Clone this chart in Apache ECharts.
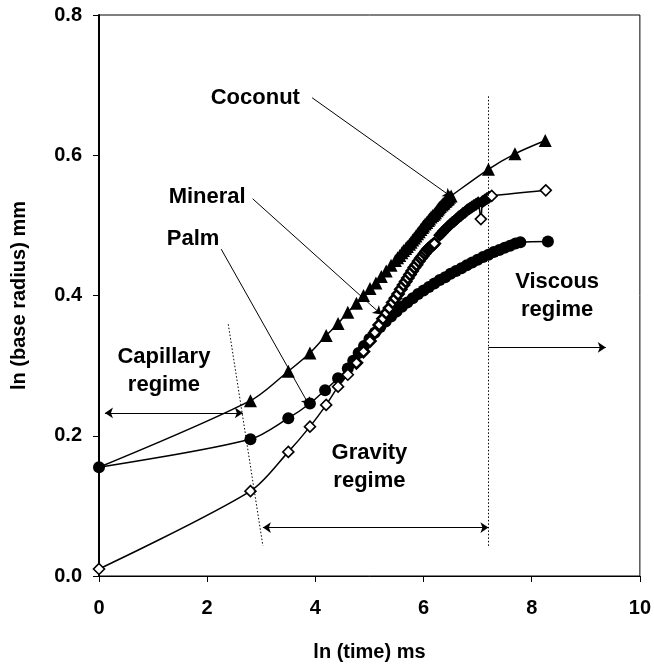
<!DOCTYPE html>
<html>
<head>
<meta charset="utf-8">
<script src="https://cdn.jsdelivr.net/npm/echarts@6/dist/echarts.min.js"></script>
<style>
html,body{margin:0;padding:0;background:#fff;}
#chart{width:654px;height:667px;}
</style>
</head>
<body>
<div id="chart"></div>
<script>
// ---- data (ln(time) ms , ln(base radius) mm) ----
const coconutX = [0, 2.80, 3.50, 3.90, 4.20, 4.42, 4.60, 4.76, 4.89, 5.01, 5.12, 5.22, 5.31, 5.40, 5.48, 5.52, 5.56, 5.60, 5.63, 5.67, 5.70, 5.74, 5.77, 5.80, 5.83, 5.86, 5.89, 5.92, 5.95, 5.98, 6.00, 6.03, 6.06, 6.09, 6.11, 6.14, 6.17, 6.20, 6.22, 6.25, 6.27, 6.29, 6.31, 6.34, 6.36, 6.38, 6.40, 6.42, 6.44, 6.46, 6.48, 6.51, 7.20, 7.69, 8.25];
const coconutY = [0.155, 0.250, 0.292, 0.318, 0.343, 0.360, 0.376, 0.389, 0.400, 0.410, 0.418, 0.427, 0.435, 0.443, 0.450, 0.454, 0.457, 0.461, 0.464, 0.467, 0.470, 0.473, 0.476, 0.479, 0.482, 0.485, 0.488, 0.491, 0.494, 0.497, 0.499, 0.502, 0.504, 0.507, 0.509, 0.512, 0.514, 0.516, 0.518, 0.521, 0.523, 0.525, 0.527, 0.529, 0.531, 0.532, 0.534, 0.535, 0.537, 0.538, 0.540, 0.542, 0.580, 0.602, 0.621];

const palmX = [0, 2.80, 3.50, 3.90, 4.18, 4.42, 4.60, 4.70, 4.80, 4.90, 5.00, 5.10, 5.20, 5.30, 5.40, 5.50, 5.60, 5.70, 5.80, 5.90, 6.00, 6.10, 6.20, 6.30, 6.40, 6.50, 6.60, 6.70, 6.80, 6.90, 7.00, 7.10, 7.20, 7.30, 7.40, 7.50, 7.60, 7.70, 7.79, 8.30];
const palmY = [0.155, 0.195, 0.225, 0.246, 0.265, 0.282, 0.296, 0.307, 0.318, 0.328, 0.338, 0.347, 0.355, 0.363, 0.370, 0.377, 0.384, 0.390, 0.396, 0.402, 0.407, 0.412, 0.417, 0.422, 0.426, 0.431, 0.435, 0.439, 0.443, 0.447, 0.451, 0.455, 0.458, 0.462, 0.465, 0.468, 0.471, 0.474, 0.476, 0.477];

const mineralX = [0, 2.80, 3.50, 3.90, 4.20, 4.42, 4.60, 4.76, 4.89, 5.01, 5.10, 5.18, 5.25, 5.31, 5.37, 5.43, 5.48, 5.53, 5.58, 5.63, 5.67, 5.71, 5.75, 5.79, 5.83, 5.87, 5.91, 5.95, 5.98, 6.02, 6.05, 6.08, 6.11, 6.14, 6.17, 6.20, 6.30, 6.34, 6.37, 6.41, 6.45, 6.49, 6.53, 6.57, 6.61, 6.65, 6.69, 6.73, 6.77, 6.81, 6.85, 6.89, 6.93, 6.97, 7.01, 7.06, 7.09, 7.13, 7.17, 7.21, 7.26, 8.26];
const mineralY = [0.010, 0.121, 0.177, 0.213, 0.244, 0.270, 0.287, 0.304, 0.320, 0.335, 0.347, 0.358, 0.367, 0.375, 0.382, 0.390, 0.396, 0.402, 0.409, 0.415, 0.420, 0.425, 0.430, 0.435, 0.440, 0.444, 0.449, 0.453, 0.456, 0.460, 0.463, 0.466, 0.468, 0.470, 0.472, 0.474, 0.486, 0.489, 0.492, 0.495, 0.498, 0.501, 0.504, 0.506, 0.509, 0.512, 0.514, 0.517, 0.519, 0.522, 0.524, 0.526, 0.528, 0.530, 0.532, 0.509, 0.534, 0.536, 0.538, 0.540, 0.542, 0.550];

const xTicks = [0, 2, 4, 6, 8, 10];
const yTicks = [0.0, 0.2, 0.4, 0.6, 0.8];

// ---- annotations (data coordinates) ----
const annTexts = [
  {text: 'Coconut', x: 2.89, y: 0.682},
  {text: 'Mineral', x: 2.00, y: 0.541},
  {text: 'Palm', x: 1.74, y: 0.480},
  {text: 'Capillary\nregime', x: 1.20, y: 0.292},
  {text: 'Gravity\nregime', x: 5.00, y: 0.155},
  {text: 'Viscous\nregime', x: 8.47, y: 0.400}
];

const pairs = (xs, ys) => xs.map((x, i) => [x, ys[i]]);
const FONT = '"Liberation Sans", Arial, sans-serif';

const chart = echarts.init(document.getElementById('chart'), null, {renderer: 'canvas'});

const coconutData = pairs(coconutX, coconutY).map((p, i) => i === 0 ? {value: p, symbol: 'none'} : p);

// dense (video-frame) stretch of the mineral curve: overlapping markers read as a dark band
const lastDense = mineralX.length - 2;
const mineralData = pairs(mineralX, mineralY).map((p, i) => {
  const x = p[0];
  if (i >= 7 && x <= 6.2) return {value: p, itemStyle: {borderWidth: 2.6}};
  if (x >= 6.3 && i < lastDense && Math.abs(x - 7.06) > 1e-9) return {value: p, itemStyle: {color: '#000'}};
  return p;
});

function seg(a, b, s1, s2, dotted) {
  return [
    {coord: a, symbol: s1},
    {coord: b, symbol: s2, lineStyle: {type: dotted ? [1.5, 2] : 'solid', width: 1, color: '#000'}}
  ];
}

const option = {
  animation: false,
  backgroundColor: '#fff',
  grid: {left: 99, right: 13, top: 15, bottom: 81, show: true, borderColor: '#000', borderWidth: 1, backgroundColor: 'transparent'},
  xAxis: {
    type: 'value', min: 0, max: 10, interval: 2,
    name: 'ln (time) ms', nameLocation: 'middle', nameGap: 66,
    nameTextStyle: {fontFamily: FONT, fontWeight: 'bold', fontSize: 20, color: '#000'},
    axisLine: {show: true, onZero: false, lineStyle: {color: '#000', width: 1}},
    axisTick: {show: true, inside: false, length: 6, lineStyle: {color: '#000', width: 1}},
    axisLabel: {fontFamily: FONT, fontWeight: 'bold', fontSize: 20, color: '#000', margin: 22,
      formatter: v => xTicks.includes(v) ? String(v) : ''},
    splitLine: {show: false}
  },
  yAxis: {
    type: 'value', min: 0, max: 0.8, interval: 0.2,
    name: 'ln (base radius) mm', nameLocation: 'middle', nameGap: 70,
    nameTextStyle: {fontFamily: FONT, fontWeight: 'bold', fontSize: 20, color: '#000'},
    axisLine: {show: true, onZero: false, lineStyle: {color: '#000', width: 2}},
    axisTick: {show: true, inside: false, length: 6, lineStyle: {color: '#000', width: 1}},
    axisLabel: {fontFamily: FONT, fontWeight: 'bold', fontSize: 20, color: '#000', margin: 17,
      formatter: v => yTicks.some(t => Math.abs(t - v) < 1e-9) ? v.toFixed(1) : ''},
    splitLine: {show: false}
  },
  series: [
    {
      name: 'Coconut', type: 'line', data: coconutData, smooth: 0.3,
      symbol: 'triangle', symbolSize: 13, showAllSymbol: true,
      itemStyle: {color: '#000'}, lineStyle: {color: '#000', width: 1.5}, z: 2
    },
    {
      name: 'Palm', type: 'line', data: pairs(palmX, palmY), smooth: 0.3,
      symbol: 'circle', symbolSize: 12, showAllSymbol: true,
      itemStyle: {color: '#000'}, lineStyle: {color: '#000', width: 1.5}, z: 3
    },
    {
      name: 'Mineral', type: 'line', data: mineralData, smooth: 0.3,
      symbol: 'diamond', symbolSize: 11, showAllSymbol: true,
      itemStyle: {color: '#fff', borderColor: '#000', borderWidth: 1.6},
      lineStyle: {color: '#000', width: 1.5}, z: 4
    },
    {
      name: 'annotations', type: 'line', data: [], z: 5,
      markLine: {
        silent: true, animation: false, symbolSize: 8,
        label: {show: false},
        lineStyle: {color: '#000', width: 1, type: 'solid'},
        data: [
          seg([3.94, 0.682], [6.51, 0.541], 'none', 'arrow', false),
          seg([2.84, 0.538], [5.22, 0.373], 'none', 'arrow', false),
          seg([2.26, 0.466], [3.89, 0.243], 'none', 'arrow', false),
          seg([0.11, 0.2326], [2.66, 0.2326], 'arrow', 'arrow', false),
          seg([3.03, 0.069], [7.20, 0.069], 'arrow', 'arrow', false),
          seg([7.20, 0.326], [9.37, 0.326], 'none', 'arrow', false),
          seg([2.39, 0.359], [3.03, 0.043], 'none', 'none', true),
          seg([7.20, 0.684], [7.20, 0.043], 'none', 'none', true)
        ]
      }
    }
  ]
};
chart.setOption(option);

const graphics = annTexts.map(a => {
  const p = chart.convertToPixel({gridIndex: 0}, [a.x, a.y]);
  return {
    type: 'text', x: p[0], y: p[1], z: 100,
    style: {text: a.text, font: 'bold 22px ' + FONT, fill: '#000', align: 'center', verticalAlign: 'middle', lineHeight: 28}
  };
});
chart.setOption({graphic: graphics});
</script>
</body>
</html>
